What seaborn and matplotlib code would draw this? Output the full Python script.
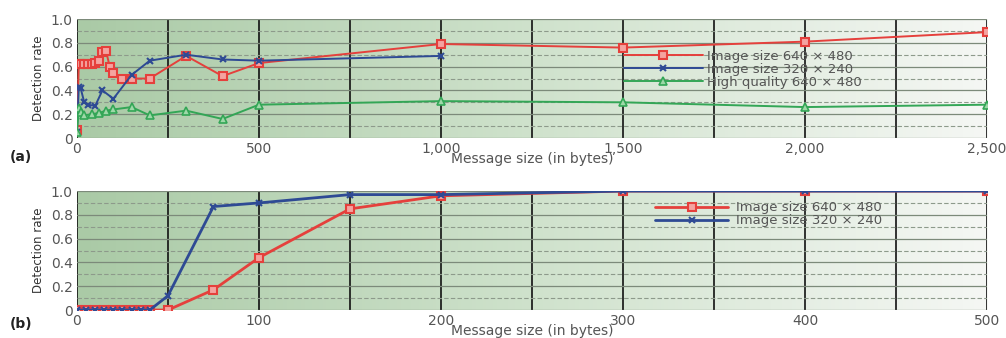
import matplotlib
matplotlib.use("Agg")
import matplotlib.pyplot as plt
import seaborn as sns
import numpy as np
from matplotlib.ticker import MultipleLocator, FuncFormatter

# ---- panel (a) data ----
a_red_x = [0, 5, 10, 20, 30, 40, 50, 60, 70, 80, 90, 100, 125, 150, 200, 300, 400, 500, 1000, 1500, 2000, 2500]
a_red_y = [0.07, 0.62, 0.62, 0.62, 0.62, 0.62, 0.63, 0.65, 0.72, 0.73, 0.60, 0.55, 0.50, 0.50, 0.50, 0.69, 0.52, 0.63, 0.79, 0.76, 0.81, 0.89]
a_blue_x = [0, 5, 10, 20, 30, 50, 70, 100, 150, 200, 300, 400, 500, 1000]
a_blue_y = [0.05, 0.43, 0.42, 0.30, 0.28, 0.27, 0.40, 0.33, 0.53, 0.65, 0.70, 0.66, 0.65, 0.69]
a_green_x = [0, 5, 10, 20, 40, 60, 80, 100, 150, 200, 300, 400, 500, 1000, 1500, 2000, 2500]
a_green_y = [0.05, 0.25, 0.22, 0.19, 0.20, 0.21, 0.23, 0.24, 0.26, 0.19, 0.23, 0.16, 0.28, 0.31, 0.30, 0.26, 0.28]

# ---- panel (b) data ----
b_red_x = [0, 5, 10, 15, 20, 25, 30, 35, 40, 50, 75, 100, 150, 200, 300, 400, 500]
b_red_y = [0, 0, 0, 0, 0, 0, 0, 0, 0, 0, 0.17, 0.44, 0.85, 0.96, 1.0, 1.0, 1.0]
b_blue_x = [0, 5, 10, 15, 20, 25, 30, 35, 40, 50, 75, 100, 150, 200, 300, 400, 500]
b_blue_y = [0, 0, 0, 0, 0, 0, 0, 0, 0, 0.12, 0.87, 0.90, 0.97, 0.97, 1.0, 1.0, 1.0]

labels = ["Image size 640 \u00d7 480", "Image size 320 \u00d7 240", "High quality 640 \u00d7 480"]

sns.set_style("white")
plt.rcParams['font.family'] = ['DejaVu Sans']

RED = '#e5403c'
BLUE = '#2e4a94'
GREEN = '#33a656'
TXT = '#555555'

fig = plt.figure(figsize=(10.06, 3.38), dpi=100)
ax_a = fig.add_axes([0.0765, 0.5917, 0.9046, 0.352])
ax_b = fig.add_axes([0.0765, 0.0828, 0.9046, 0.352])

# green gradient background, greener at left, almost white at right
grad = np.linspace(0, 1, 256).reshape(1, -1)
bg_cmap = matplotlib.colors.LinearSegmentedColormap.from_list("bg", ['#aacaa6', '#cfe2cc', '#f5f7f4'])


def style_axes(ax, xmax, xstep):
    ax.imshow(grad, cmap=bg_cmap, extent=[0, xmax, 0, 1.0], aspect='auto', zorder=0)
    ax.set_xlim(0, xmax)
    ax.set_ylim(0, 1.0)
    ax.xaxis.set_major_locator(MultipleLocator(xstep * 2))
    ax.xaxis.set_minor_locator(MultipleLocator(xstep))
    ax.yaxis.set_major_locator(MultipleLocator(0.2))
    ax.yaxis.set_minor_locator(MultipleLocator(0.1))
    ax.grid(which='both', axis='x', color='#111111', lw=1.2, zorder=1)
    ax.grid(which='major', axis='y', color='#7c8a7a', lw=0.9, zorder=1)
    ax.grid(which='minor', axis='y', color='#8d9a8b', lw=0.8, ls=(0, (4, 2)), zorder=1)
    ax.set_axisbelow(True)
    for s in ax.spines.values():
        s.set_visible(False)
    ax.tick_params(which='both', length=0, labelsize=10, colors=TXT, pad=3)
    ax.yaxis.set_major_formatter(FuncFormatter(lambda v, p: "0" if v == 0 else f"{v:.1f}"))
    ax.xaxis.set_major_formatter(FuncFormatter(lambda v, p: f"{int(v):,}"))
    ax.set_xlabel("Message size (in bytes)", fontsize=10, color=TXT, labelpad=-3)
    ax.set_ylabel("Detection rate", fontsize=8.5, color='#333333', labelpad=4)


style_axes(ax_a, 2500, 250)
style_axes(ax_b, 500, 50)

# panel (a)
sns.lineplot(x=a_red_x, y=a_red_y, ax=ax_a, color=RED, lw=1.4, marker='s', ms=6,
             mfc='#f4a3a0', mec=RED, mew=1.5, label=labels[0], zorder=3)
sns.lineplot(x=a_blue_x, y=a_blue_y, ax=ax_a, color=BLUE, lw=1.4, marker='x', ms=5,
             mec=BLUE, mew=1.5, label=labels[1], zorder=3)
sns.lineplot(x=a_green_x, y=a_green_y, ax=ax_a, color=GREEN, lw=1.4, marker='^', ms=6,
             mfc='#9ed8a8', mec=GREEN, mew=1.2, label=labels[2], zorder=3)
ax_a.legend(loc='upper left', bbox_to_anchor=(0.592, 0.81), frameon=False,
            fontsize=9.5, labelcolor=TXT, handlelength=6.0, handletextpad=0.3,
            labelspacing=0.0, borderpad=0.1, numpoints=1)

# panel (b)
sns.lineplot(x=b_red_x, y=b_red_y, ax=ax_b, color=RED, lw=2.0, marker='s', ms=6,
             mfc='#f4a3a0', mec=RED, mew=1.5, label=labels[0], zorder=3)
sns.lineplot(x=b_blue_x, y=b_blue_y, ax=ax_b, color=BLUE, lw=2.0, marker='x', ms=5,
             mec=BLUE, mew=1.5, label=labels[1], zorder=4)
ax_b.legend(loc='upper left', bbox_to_anchor=(0.627, 0.98), frameon=False,
            fontsize=9.5, labelcolor=TXT, handlelength=5.5, handletextpad=0.6,
            labelspacing=0.0, borderpad=0.1, numpoints=1)

fig.text(0.010, 0.525, "(a)", fontsize=10, fontweight='bold', color='#222222')
fig.text(0.010, 0.030, "(b)", fontsize=10, fontweight='bold', color='#222222')

fig.savefig("out.png", dpi=100)
